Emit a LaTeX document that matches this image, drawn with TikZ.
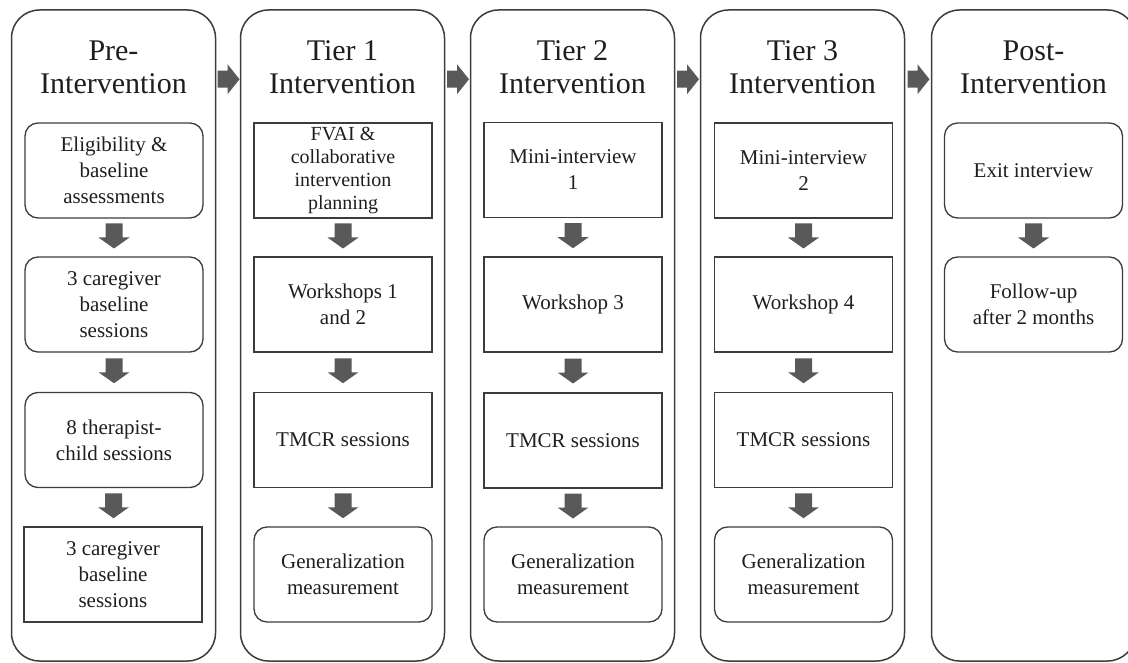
\documentclass[tikz,border=0pt]{standalone}
\usepackage{fontspec}
\setmainfont{Liberation Serif}
\usetikzlibrary{calc}
\definecolor{edgec}{HTML}{3C3C3C}
\definecolor{arrowc}{HTML}{595959}
\definecolor{txtc}{HTML}{1E1E1E}
\tikzset{
  outer/.style={draw=edgec, line width=1.5pt, rounded corners=28pt, minimum width=204pt, minimum height=651pt, inner sep=0pt},
  title/.style={align=center, text=txtc, font=\fontsize{30}{33}\selectfont},
  sqbox/.style={draw=edgec, line width=1.3pt, minimum width=178pt, minimum height=95pt, inner sep=0pt, align=center, text=txtc, font=\fontsize{21}{26}\selectfont},
  rdbox/.style={sqbox, rounded corners=13pt},
  arrowfill/.style={fill=arrowc, draw=none},
}
\newcommand{\varr}[2]{\fill[arrowfill] ($(#1.south)!0.5!(#2.north)$) ++(-8.5,-14) -- ++(17,0) -- ++(0,14) -- ++(7,0) -- ++(-15.5,11) -- ++(-15.5,-11) -- ++(7,0) -- cycle;}
\newcommand{\harr}[2]{\fill[arrowfill] ($(#1.north east)!0.5!(#2.north west)$) ++(-10.5,61.5) -- ++(10,0) -- ++(0,-6.5) -- ++(12,15) -- ++(-12,15) -- ++(0,-6.5) -- ++(-10,0) -- cycle;}
\begin{document}
\begin{tikzpicture}[x=1pt, y=-1pt]
\useasboundingbox (0,0) rectangle (1128,663);
% outer columns
\node[outer] (col1) at (113.5,335.5) {};
\node[outer] (col2) at (342.5,335.5) {};
\node[outer] (col3) at (572.5,335.5) {};
\node[outer] (col4) at (802.5,335.5) {};
\node[outer] (col5) at (1033.5,335.5) {};
% titles
\node[title] (t1) at (113.5,67.5) {Pre-\\Intervention};
\node[title] (t2) at (342.5,67.5) {Tier 1\\Intervention};
\node[title] (t3) at (572.5,67.5) {Tier 2\\Intervention};
\node[title] (t4) at (802.5,67.5) {Tier 3\\Intervention};
\node[title] (t5) at (1033.5,67.5) {Post-\\Intervention};
% column 1
\node[rdbox] (a1) at (114,170.5) {Eligibility \&\\baseline\\assessments};
\node[rdbox] (a2) at (114,304.5) {3 caregiver\\baseline\\sessions};
\node[rdbox] (a3) at (114,440) {8 therapist-\\child sessions};
\node[sqbox] (a4) at (113,574.5) {3 caregiver\\baseline\\sessions};
% column 2
\node[sqbox, font=\fontsize{20}{23.3}\selectfont] (b1) at (343,170.5) {FVAI \&\\collaborative\\intervention\\planning};
\node[sqbox] (b2) at (343,304.5) {Workshops 1\\and 2};
\node[sqbox] (b3) at (343,440) {TMCR sessions};
\node[rdbox] (b4) at (343,574.5) {Generalization\\measurement};
% column 3
\node[sqbox] (c1) at (573,170) {Mini-interview\\1};
\node[sqbox] (c2) at (573,304.5) {Workshop 3};
\node[sqbox] (c3) at (573,440.5) {TMCR sessions};
\node[rdbox] (c4) at (573,574.5) {Generalization\\measurement};
% column 4
\node[sqbox] (d1) at (803.5,170.5) {Mini-interview\\2};
\node[sqbox] (d2) at (803.5,304.5) {Workshop 4};
\node[sqbox] (d3) at (803.5,440) {TMCR sessions};
\node[rdbox] (d4) at (803.5,574.5) {Generalization\\measurement};
% column 5
\node[rdbox] (e1) at (1033.5,170.5) {Exit interview};
\node[rdbox] (e2) at (1033.5,304.5) {Follow-up\\after 2 months};
% vertical arrows
\varr{a1}{a2}\varr{a2}{a3}\varr{a3}{a4}
\varr{b1}{b2}\varr{b2}{b3}\varr{b3}{b4}
\varr{c1}{c2}\varr{c2}{c3}\varr{c3}{c4}
\varr{d1}{d2}\varr{d2}{d3}\varr{d3}{d4}
\varr{e1}{e2}
% horizontal arrows
\harr{col1}{col2}\harr{col2}{col3}\harr{col3}{col4}\harr{col4}{col5}
\end{tikzpicture}
\end{document}
